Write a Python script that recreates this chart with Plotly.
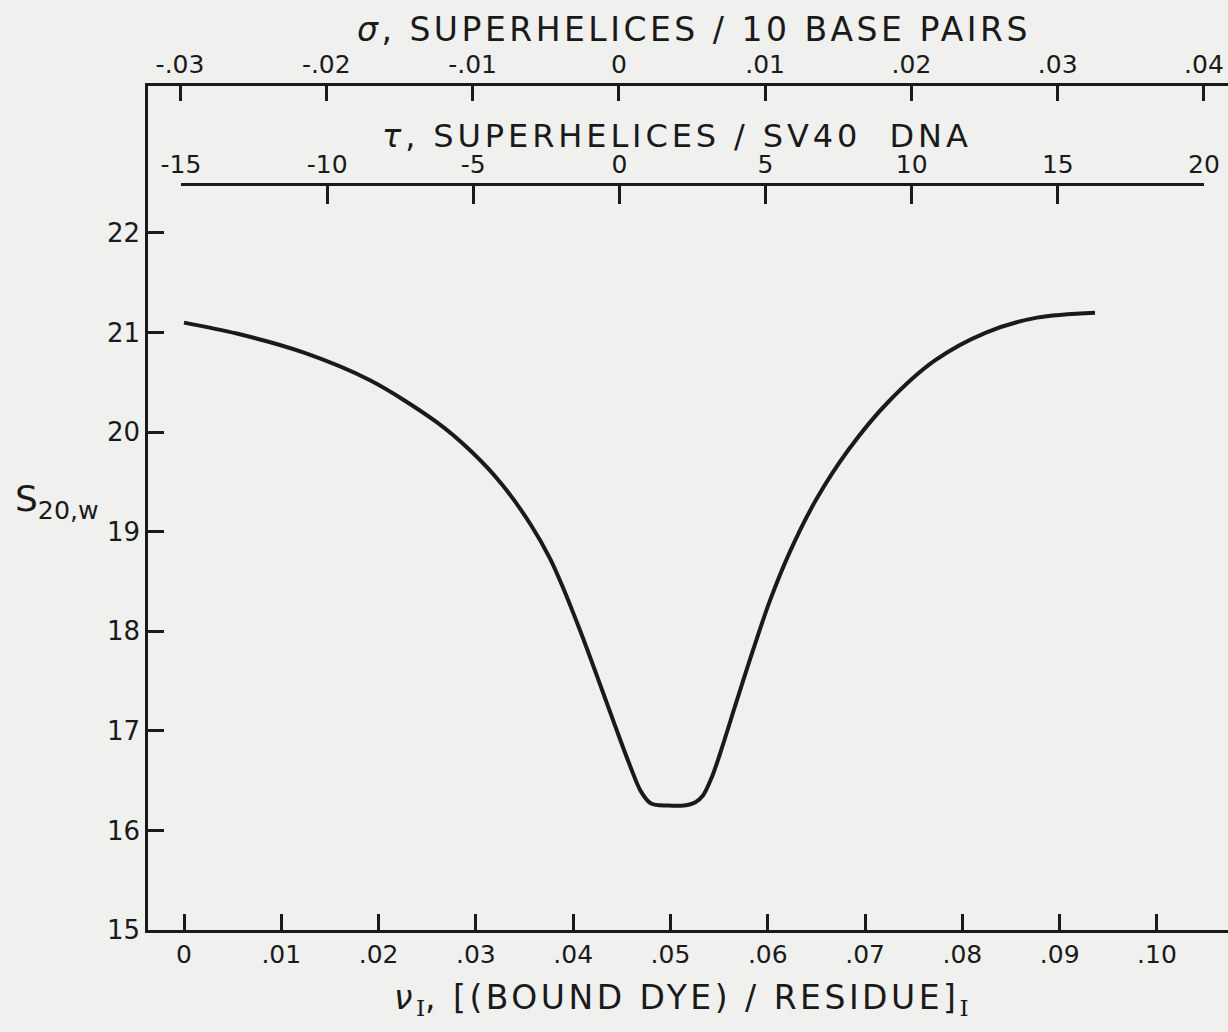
import plotly.graph_objects as go

# ---- data ----
nu = [0.0, 0.00542, 0.01226, 0.01912, 0.02597, 0.02948, 0.03264, 0.03564,
      0.03762, 0.03895, 0.04070, 0.04245, 0.04420, 0.04584, 0.04697, 0.04800,
      0.04975, 0.05139, 0.05252, 0.05334, 0.05427, 0.05509, 0.05684, 0.05848,
      0.06023, 0.06228, 0.06496, 0.06835, 0.07235, 0.07718, 0.08243, 0.08767,
      0.09363]
s20w = [21.10, 20.99, 20.80, 20.52, 20.10, 19.81, 19.48, 19.07,
        18.73, 18.44, 18.01, 17.55, 17.08, 16.65, 16.39, 16.27,
        16.25, 16.25, 16.28, 16.35, 16.54, 16.77, 17.31, 17.81,
        18.31, 18.80, 19.32, 19.83, 20.30, 20.72, 21.00, 21.15,
        21.20]

nu_ticks = [0, 0.01, 0.02, 0.03, 0.04, 0.05, 0.06, 0.07, 0.08, 0.09, 0.10]
nu_labels = ["0", ".01", ".02", ".03", ".04", ".05", ".06", ".07", ".08", ".09", ".10"]
s_ticks = [15, 16, 17, 18, 19, 20, 21, 22]
s_labels = ["15", "16", "17", "18", "19", "20", "21", "22"]
sigma_ticks = [-0.03, -0.02, -0.01, 0, 0.01, 0.02, 0.03, 0.04]
sigma_labels = ["-.03", "-.02", "-.01", "0", ".01", ".02", ".03", ".04"]
tau_ticks = [-15, -10, -5, 0, 5, 10, 15, 20]
tau_labels = ["-15", "-10", "-5", "0", "5", "10", "15", "20"]

INK = "#1a1a1a"
BG = "#f0f0ee"
FONT = "DejaVu Sans"

W, H = 1228, 1032
L, R, T, B = 148, 0, 86, 102
PW, PH = W - L - R, H - T - B


def px(xp):
    return (xp - L) / PW


def py(yp):
    return (H - B - yp) / PH


fig = go.Figure()
fig.add_trace(go.Scatter(
    x=nu, y=s20w, mode="lines",
    line=dict(color=INK, width=4, shape="spline", smoothing=0.9),
    hoverinfo="skip", showlegend=False, xaxis="x", yaxis="y"))
# empty traces so that the two top scales are drawn
fig.add_trace(go.Scatter(x=sigma_ticks, y=[None] * len(sigma_ticks), mode="lines",
                         hoverinfo="skip", showlegend=False, xaxis="x2", yaxis="y"))
fig.add_trace(go.Scatter(x=tau_ticks, y=[None] * len(tau_ticks), mode="lines",
                         hoverinfo="skip", showlegend=False, xaxis="x3", yaxis="y"))

axis_common = dict(showgrid=False, zeroline=False, showline=True, linecolor=INK,
                   linewidth=2.5, ticks="inside", tickcolor=INK, tickwidth=2.5,
                   fixedrange=True, automargin=False)
tick_font = dict(family=FONT, size=25, color=INK)

fig.update_layout(
    width=W, height=H,
    margin=dict(l=L, r=R, t=T, b=B, pad=0, autoexpand=False),
    paper_bgcolor=BG, plot_bgcolor="rgba(0,0,0,0)",
    showlegend=False,
    font=dict(family=FONT, color=INK),
    xaxis=dict(range=[-0.0037, 0.1073], tickvals=nu_ticks, ticktext=nu_labels,
               ticklen=16, domain=[0, 1], anchor="y", side="bottom",
               tickfont=tick_font, **axis_common),
    yaxis=dict(range=[15, 23.476], tickvals=s_ticks, ticktext=s_labels,
               ticklen=16, domain=[0, 1], anchor="x",
               tickfont=dict(family=FONT, size=26, color=INK), **axis_common),
    xaxis2=dict(range=[-0.032188, 0.041641], tickvals=sigma_ticks,
                ticktext=sigma_labels, ticklen=15, overlaying="x",
                anchor="y", side="top", tickfont=tick_font, **axis_common),
    xaxis3=dict(range=[-15, 20], tickvals=tau_ticks, ticktext=tau_labels,
                ticklen=18, domain=[px(181), px(1204)], anchor="free",
                position=py(184), side="top", tickfont=tick_font, **axis_common),
)

title_font = dict(family=FONT, size=33, color=INK)
SP = "letter-spacing:3.5px"
SERIF_I = "<span style=\"font-family:'DejaVu Serif'\">I</span>"
fig.add_annotation(text=f"<span style='{SP}'><i>σ</i>, SUPERHELICES / 10 BASE PAIRS</span>",
                   x=px(694), y=py(30), xref="paper", yref="paper",
                   xanchor="center", yanchor="middle", showarrow=False,
                   font=title_font)
fig.add_annotation(text=("<span style='letter-spacing:3.9px'><i>τ</i>, SUPERHELICES / SV40  DNA</span>"),
                   x=px(677), y=py(136), xref="paper", yref="paper",
                   xanchor="center", yanchor="middle", showarrow=False,
                   font=dict(family=FONT, size=32, color=INK))
fig.add_annotation(text=(f"<span style='{SP}'><i>ν</i></span><sub>{SERIF_I}</sub>"
                         f"<span style='{SP}'>, [(BOUND DYE) / RESIDUE]</span>"
                         f"<sub>{SERIF_I}</sub>"),
                   x=px(681), y=py(1000), xref="paper", yref="paper",
                   xanchor="center", yanchor="middle", showarrow=False,
                   font=title_font)
fig.add_annotation(text="S<sub>20,w</sub>",
                   x=px(13), y=py(501), xref="paper", yref="paper",
                   xanchor="left", yanchor="middle", showarrow=False,
                   font=dict(family=FONT, size=36, color=INK))

fig.write_html("out.html")
